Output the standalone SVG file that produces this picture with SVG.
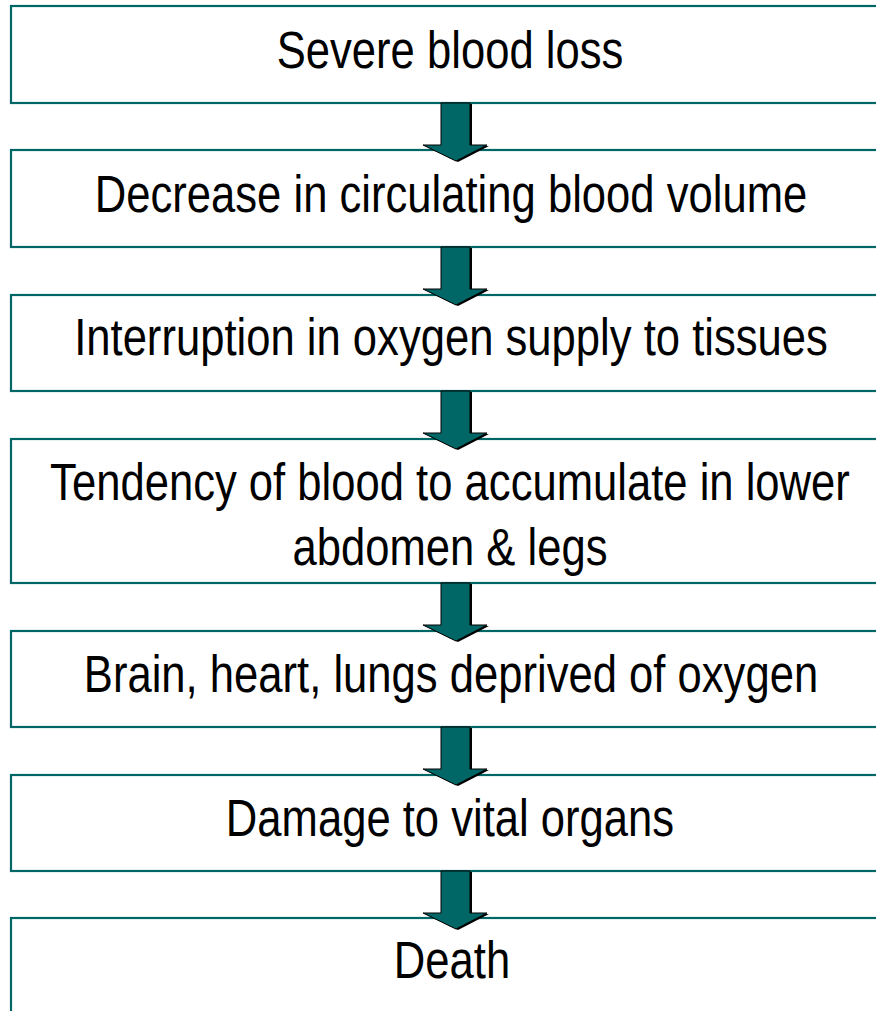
<svg xmlns="http://www.w3.org/2000/svg" width="876" height="1011" viewBox="0 0 876 1011">
<defs>
<style>
.box{fill:#ffffff;stroke:#006666;stroke-width:2.2}
.lbl{font-family:"Liberation Sans",Arial,sans-serif;font-size:51px;fill:#000000;text-anchor:middle}
.shadow{fill:#000000}
.arr{fill:#006666;stroke:#000000;stroke-width:1}
</style>
<polygon id="arrowShape" points="441,0 470,0 470,42 487,42 456,58 423,42 441,42"/>
</defs>
<rect x="0" y="0" width="876" height="1011" fill="#ffffff"/>
<g id="node1"><rect class="box" x="11" y="6" width="880" height="97"/><text class="lbl" transform="translate(450,68) scale(0.855,1)">Severe blood loss</text></g>
<g id="node2"><rect class="box" x="11" y="150" width="880" height="97"/><text class="lbl" transform="translate(451,212) scale(0.855,1)">Decrease in circulating blood volume</text></g>
<g id="node3"><rect class="box" x="11" y="295" width="880" height="96"/><text class="lbl" transform="translate(451,355) scale(0.855,1)">Interruption in oxygen supply to tissues</text></g>
<g id="node4"><rect class="box" x="11" y="439" width="880" height="144"/><text class="lbl" transform="translate(450,500) scale(0.855,1)">Tendency of blood to accumulate in lower</text><text class="lbl" transform="translate(450,565) scale(0.855,1)">abdomen &amp; legs</text></g>
<g id="node5"><rect class="box" x="11" y="631" width="880" height="96"/><text class="lbl" transform="translate(451,692) scale(0.855,1)">Brain, heart, lungs deprived of oxygen</text></g>
<g id="node6"><rect class="box" x="11" y="775" width="880" height="96"/><text class="lbl" transform="translate(450,836) scale(0.855,1)">Damage to vital organs</text></g>
<g id="node7"><rect class="box" x="11" y="918" width="880" height="120"/><text class="lbl" transform="translate(452,978) scale(0.855,1)">Death</text></g>
<g id="connectors">
<g transform="translate(0,103)"><use href="#arrowShape" class="shadow" transform="translate(2,1)"/><use href="#arrowShape" class="arr"/></g>
<g transform="translate(0,247)"><use href="#arrowShape" class="shadow" transform="translate(2,1)"/><use href="#arrowShape" class="arr"/></g>
<g transform="translate(0,391)"><use href="#arrowShape" class="shadow" transform="translate(2,1)"/><use href="#arrowShape" class="arr"/></g>
<g transform="translate(0,583)"><use href="#arrowShape" class="shadow" transform="translate(2,1)"/><use href="#arrowShape" class="arr"/></g>
<g transform="translate(0,727)"><use href="#arrowShape" class="shadow" transform="translate(2,1)"/><use href="#arrowShape" class="arr"/></g>
<g transform="translate(0,871)"><use href="#arrowShape" class="shadow" transform="translate(2,1)"/><use href="#arrowShape" class="arr"/></g>
</g>
</svg>
